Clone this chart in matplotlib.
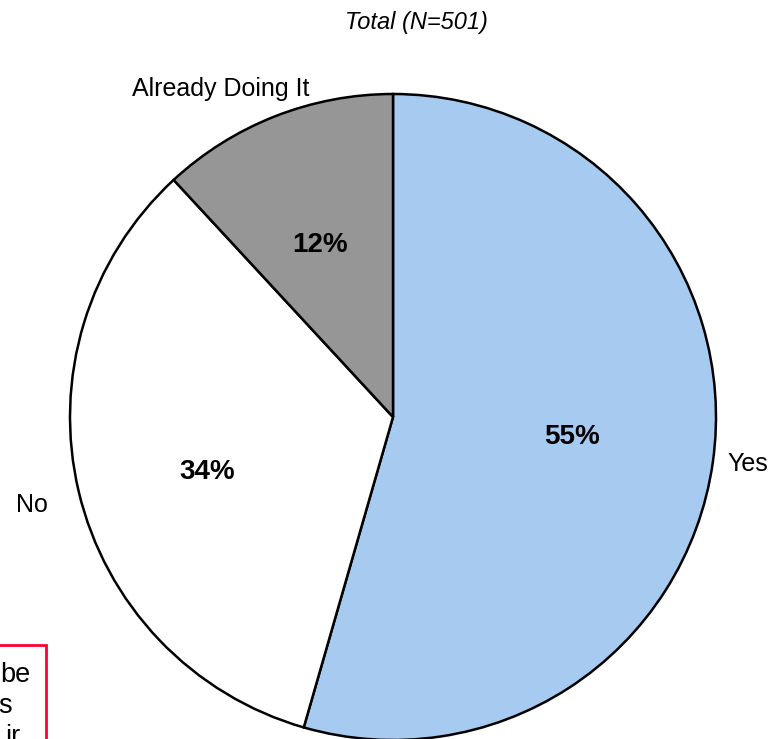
import matplotlib
matplotlib.use("Agg")
import matplotlib.pyplot as plt
from matplotlib.patches import Rectangle

plt.rcParams['font.family'] = ['Liberation Sans', 'DejaVu Sans']

categories = ["Yes", "No", "Already Doing It"]
values = [55, 34, 12]
colors = ["#A6CAF0", "#FFFFFF", "#969696"]
title = "Total (N=501)"

W, H = 773, 739
fig = plt.figure(figsize=(W / 100, H / 100), dpi=100)
ax = fig.add_axes([0, 0, 1, 1])

# work in pixel-like units, y measured from the top
cx, cy, R = 393, 417, 323
total = sum(values)

wedges, _, autotexts = ax.pie(
    values, colors=colors, startangle=90, counterclock=False,
    center=(cx, H - cy), radius=R,
    autopct=lambda p: f"{p * total / 100:.0f}%", pctdistance=0.58,
    wedgeprops=dict(edgecolor="black", linewidth=1.8),
    textprops=dict(fontsize=20, fontweight="heavy", color="black"),
)

# percentage label anchors (centre x, baseline y from the top)
pct_pos = {"Yes": (572, 444), "No": (207, 479), "Already Doing It": (320, 252)}
for name, t in zip(categories, autotexts):
    x, y = pct_pos[name]
    t.set_position((x, H - y))
    t.set_verticalalignment("baseline")
    t.set_horizontalalignment("center")

ax.set_xlim(0, W)
ax.set_ylim(0, H)
ax.set_aspect("auto")
ax.axis("off")

label_pos = {"Yes": (748, 464), "No": (32, 505), "Already Doing It": (221, 89)}
for name in categories:
    x, y = label_pos[name]
    ax.text(x, H - y, name, ha="center", va="center", fontsize=18)

ax.text(416, H - 22, title, ha="center", va="center", fontsize=17,
        fontstyle="italic")

# note box running off the lower-left edge
ax.add_patch(Rectangle((-20, -20), 66, H - 644.5 + 20, fill=False,
                       edgecolor="#FF0033", linewidth=2, clip_on=False))
for txt, xr, base in [("be", 30, 682), ("s", 12, 713), ("ir", 20, 744)]:
    ax.text(xr, H - base, txt, ha="right", va="baseline", fontsize=19.5)

fig.savefig("out.png", dpi=100)
